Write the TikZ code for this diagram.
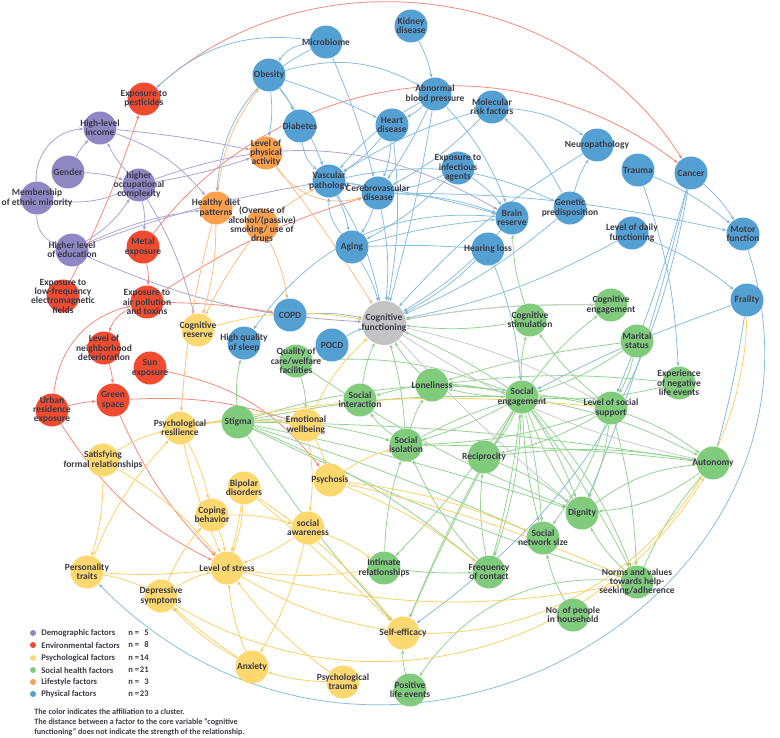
\documentclass[tikz,border=0pt]{standalone}
\usepackage{fontspec}
\setmainfont{Carlito}
\usetikzlibrary{arrows.meta}

\definecolor{demoC}{HTML}{8F86C4}
\definecolor{envC}{HTML}{EF4B31}
\definecolor{psyC}{HTML}{FDD86F}
\definecolor{socC}{HTML}{80CB7C}
\definecolor{lifeC}{HTML}{FCA04B}
\definecolor{physC}{HTML}{55A0D3}
\definecolor{cogC}{HTML}{C3C3C3}
\definecolor{txtC}{HTML}{3B3B47}

\pgfdeclarelayer{links}
\pgfsetlayers{links,main}

\begin{document}
\begin{tikzpicture}[x=0.02cm, y=-0.02cm,
    fac/.style={circle, minimum size=0.66cm, inner sep=0pt},
    demo/.style={fac, fill=demoC},
    env/.style={fac, fill=envC},
    psy/.style={fac, fill=psyC},
    soc/.style={fac, fill=socC},
    life/.style={fac, fill=lifeC},
    physn/.style={fac, fill=physC},
    lbl/.style={align=center, inner sep=0pt, text=txtC,
                font=\bfseries\fontsize{5.4}{5.3}\selectfont},
    tip/.style={-{Stealth[length=2.4pt, width=1.9pt]}, line width=0.45pt,
                every edge/.append style={bend left=8}},
    demoline/.style={tip, draw=demoC!75},
    envline/.style={tip, draw=envC!65},
    psyline/.style={tip, draw=psyC!90!orange},
    socline/.style={tip, draw=socC!85},
    lifeline/.style={tip, draw=lifeC!70},
    physline/.style={tip, draw=physC!70},
    cogline/.style={tip, draw=cogC!90},
    legtext/.style={anchor=west, inner sep=0pt, text=txtC,
                font=\bfseries\fontsize{4.9}{5}\selectfont}
]
\useasboundingbox (0,0) rectangle (780,737);

% demographic factors
\node[demo, label={[lbl]center:High-level\\income}] (inc) at (100,128) {};
\node[demo, label={[lbl]center:Gender}] (gen) at (68,172) {};
\node[demo, label={[lbl]center:Membership\\of ethnic minority}] (eth) at (37,198) {};
\node[demo, label={[lbl]center:higher\\occupational\\complexity}] (occ) at (139,185) {};
\node[demo, label={[lbl]center:Higher level\\of education}] (edu) at (72,250) {};

% environmental factors
\node[env, label={[lbl]center:Exposure to\\pesticides}] (pest) at (144,99) {};
\node[env, label={[lbl]center:Metal\\exposure}] (metal) at (143,247) {};
\node[env, label={[lbl]center:Exposure to\\low-frequency\\electromagnetic\\fields}] (lowf) at (63,296) {};
\node[env, label={[lbl]center:Exposure to\\air pollution\\and toxins}] (air) at (147,302) {};
\node[env, label={[lbl]center:Level of\\neighborhood\\deterioration}] (neigh) at (104,348) {};
\node[env, label={[lbl]center:Sun\\exposure}] (sun) at (150,368) {};
\node[env, label={[lbl]center:Green\\space}] (green) at (113,400) {};
\node[env, label={[lbl]center:Urban\\residence\\exposure}] (urban) at (52,410) {};

% lifestyle factors
\node[life, label={[lbl]center:Level of\\physical\\activity}] (phys) at (266,153) {};
\node[life, label={[lbl]center:Healthy diet\\patterns}] (diet) at (216,208) {};
\node[life, label={[lbl]center:(Overuse of\\alcohol/(passive)\\smoking/ use of\\drugs}] (alc) at (262,225) {};

% physical factors
\node[physn, label={[lbl]center:Kidney\\disease}] (kid) at (411,26) {};
\node[physn, label={[lbl]center:Microbiome}] (micro) at (326,42) {};
\node[physn, label={[lbl]center:Obesity}] (obes) at (269,75) {};
\node[physn, label={[lbl]center:Diabetes}] (diab) at (300,126) {};
\node[physn, label={[lbl]center:Abnormal\\blood pressure}] (abp) at (435,94) {};
\node[physn, label={[lbl]center:Heart\\disease}] (heart) at (392,125) {};
\node[physn, label={[lbl]center:Molecular\\risk factors}] (mol) at (492,107) {};
\node[physn, label={[lbl]center:Vascular\\pathology}] (vasc) at (329,181) {};
\node[physn, label={[lbl]center:Cerebrovascular\\disease}] (cere) at (378,193) {};
\node[physn, label={[lbl]center:Exposure to\\infectious\\agents}] (inf) at (458,168) {};
\node[physn, label={[lbl]center:Neuropathology}] (neuro) at (597,145) {};
\node[physn, label={[lbl]center:Trauma}] (trauma) at (638,170) {};
\node[physn, label={[lbl]center:Cancer}] (cancer) at (691,173) {};
\node[physn, label={[lbl]center:Genetic\\predisposition}] (gene) at (570,208) {};
\node[physn, label={[lbl]center:Brain\\reserve}] (brain) at (512,218) {};
\node[physn, label={[lbl]center:Aging}] (aging) at (352,247) {};
\node[physn, label={[lbl]center:Hearing loss}] (hear) at (488,249) {};
\node[physn, label={[lbl]center:Level of daily\\functioning}] (daily) at (632,233) {};
\node[physn, label={[lbl]center:Motor\\function}] (motor) at (743,234) {};
\node[physn, label={[lbl]center:COPD}] (copd) at (290,315) {};
\node[physn, label={[lbl]center:POCD}] (pocd) at (332,345) {};
\node[physn, label={[lbl]center:High quality\\of sleep}] (sleep) at (244,343) {};
\node[physn, label={[lbl]center:Frailty}] (frail) at (747,300) {};

% core variable
\node[fac, fill=cogC, minimum size=0.88cm, label={[lbl]center:Cognitive\\functioning}] (cog) at (384,323) {};

% social health factors
\node[soc, label={[lbl]center:Cognitive\\engagement}] (ceng) at (611,305) {};
\node[soc, label={[lbl]center:Marital\\status}] (marital) at (637,341) {};
\node[soc, label={[lbl]center:Cognitive\\stimulation}] (cstim) at (530,320) {};
\node[soc, label={[lbl]center:Quality of\\care/welfare\\facilities}] (qual) at (296,361) {};
\node[soc, label={[lbl]center:Loneliness}] (lone) at (432,385) {};
\node[soc, label={[lbl]center:Social\\interaction}] (sint) at (360,400) {};
\node[soc, label={[lbl]center:Social\\engagement}] (seng) at (522,397) {};
\node[soc, label={[lbl]center:Level of social\\support}] (ssup) at (611,408) {};
\node[soc, label={[lbl]center:Experience\\of negative\\life events}] (neg) at (679,383) {};
\node[soc, label={[lbl]center:Stigma}] (stigma) at (238,422) {};
\node[soc, label={[lbl]center:Social\\isolation}] (siso) at (406,445) {};
\node[soc, label={[lbl]center:Reciprocity}] (recip) at (484,457) {};
\node[soc, label={[lbl]center:Autonomy}] (auto) at (713,463) {};
\node[soc, label={[lbl]center:Dignity}] (dign) at (582,513) {};
\node[soc, label={[lbl]center:Social\\network size}] (snet) at (543,538) {};
\node[soc, label={[lbl]center:Intimate\\relationships}] (intim) at (384,568) {};
\node[soc, label={[lbl]center:Frequency\\of contact}] (freq) at (489,572) {};
\node[soc, label={[lbl]center:Norms and values\\towards help-\\seeking/adherence}] (norms) at (637,582) {};
\node[soc, label={[lbl]center:No. of people\\in household}] (house) at (573,615) {};
\node[soc, label={[lbl]center:Positive\\life events}] (pos) at (410,690) {};

% psychological factors
\node[psy, label={[lbl]center:Cognitive\\reserve}] (creserve) at (198,330) {};
\node[psy, label={[lbl]center:Emotional\\wellbeing}] (emo) at (306,425) {};
\node[psy, label={[lbl]center:Psychological\\resilience}] (resil) at (180,428) {};
\node[psy, label={[lbl]center:Satisfying\\formal relationships}] (sat) at (103,460) {};
\node[psy, label={[lbl]center:Bipolar\\disorders}] (bipolar) at (244,488) {};
\node[psy, label={[lbl]center:Psychosis}] (psychosis) at (330,480) {};
\node[psy, label={[lbl]center:Coping\\behavior}] (coping) at (212,515) {};
\node[psy, label={[lbl]center:social\\awareness}] (saware) at (308,528) {};
\node[psy, label={[lbl]center:Personality\\traits}] (pers) at (87,572) {};
\node[psy, label={[lbl]center:Level of stress}] (stress) at (227,568) {};
\node[psy, label={[lbl]center:Depressive\\symptoms}] (dep) at (161,596) {};
\node[psy, label={[lbl]center:Anxiety}] (anx) at (252,667) {};
\node[psy, label={[lbl]center:Psychological\\trauma}] (ptrauma) at (343,682) {};
\node[psy, label={[lbl]center:Self-efficacy}] (self) at (403,633) {};

\begin{pgfonlayer}{links}
% demographic
\path[demoline] (gen) edge (inc) (gen) edge (occ) (eth) edge[bend left=45] (inc)
    (eth) edge[bend right=15] (occ) (eth) edge[bend right=35] (edu) (occ) edge (inc)
    (edu) edge[bend right=12] (occ) (edu) edge[bend right=10] (cog) (occ) edge[bend right=4] (phys)
    (inc) edge[bend left=3] (phys) (inc) edge[bend left=15] (diet) (occ) edge (metal)
    (occ) edge[bend left=25] (brain) (occ) edge (creserve) (edu) edge[bend left=5] (vasc)
    (edu) edge (diet);
% environmental
\path[envline] (pest) edge[bend left=50] (cancer) (metal) edge[bend left=45] (cancer)
    (lowf) edge[bend right=4] (pest) (metal) edge (air) (air) edge[bend left=8] (cere)
    (air) edge[bend left=4] (copd) (air) edge[bend right=25] (neigh) (neigh) edge (green)
    (urban) edge[bend left=5] (green) (urban) edge[bend left=35] (air)
    (urban) edge[bend right=15] (stress) (green) edge[bend right=10] (stress)
    (green) edge[bend left=10] (emo) (sun) edge[bend left=20] (psychosis);
% lifestyle
\path[lifeline] (phys) edge[bend right=35] (cere) (phys) edge[bend left=3] (cog)
    (diet) edge[bend left=15] (obes) (diet) edge (creserve) (alc) edge (diet)
    (alc) edge[bend right=5] (creserve) (alc) edge (copd) (alc) edge[bend left=5] (vasc)
    (diet) edge[bend right=5] (resil);
% physical
\path[physline] (kid) edge (abp) (micro) edge[bend right=25] (obes) (micro) edge[bend left=4] (cere)
    (micro) edge[bend right=30] (diet) (micro) edge[bend right=25] (pest) (obes) edge (diab)
    (obes) edge[bend left=4] (heart) (obes) edge (vasc) (obes) edge[bend left=22] (abp)
    (obes) edge (phys) (diab) edge[bend right=20] (vasc) (abp) edge (heart)
    (abp) edge[bend right=10] (vasc) (abp) edge[bend left=4] (cere) (abp) edge[bend left=10] (brain)
    (abp) edge[bend left=3] (cog) (heart) edge (vasc) (heart) edge (cere) (heart) edge (cog)
    (mol) edge[bend left=15] (neuro) (mol) edge[bend right=8] (vasc) (mol) edge (cere)
    (gene) edge[bend right=10] (mol) (gene) edge (neuro) (gene) edge (cog)
    (vasc) edge[bend left=18] (gene) (neuro) edge[bend right=8] (cog) (inf) edge (brain)
    (inf) edge[bend left=8] (aging) (inf) edge (cere) (vasc) edge (cere)
    (vasc) edge[bend left=4] (brain) (vasc) edge[bend left=10] (cog) (vasc) edge (aging)
    (aging) edge[bend left=20] (vasc) (cere) edge (cog) (cere) edge (brain) (cere) edge (aging)
    (cere) edge[bend left=6] (motor) (aging) edge (cog) (aging) edge[bend left=3] (hear)
    (aging) edge[bend left=5] (brain) (hear) edge (cog) (hear) edge (seng) (brain) edge (cog)
    (brain) edge[bend right=30] (sleep) (trauma) edge (motor) (cancer) edge (motor)
    (cancer) edge[bend left=4] (dign) (cancer) edge[bend left=3] (ssup) (trauma) edge (neg)
    (daily) edge (frail) (daily) edge (cog) (frail) edge[bend left=3] (auto)
    (frail) edge[bend right=4] (seng) (copd) edge (cog) (pocd) edge (cog)
    (cancer) edge[bend left=22] (self);
\draw[physline] (motor) .. controls (860,600) and (380,870) .. (pers);
% social health
\path[socline] (seng) edge[bend right=5] (cog) (seng) edge[bend left=6] (lone)
    (lone) edge[bend left=6] (seng) (seng) edge (cstim) (seng) edge (ceng) (seng) edge (recip)
    (seng) edge[bend left=6] (dign) (seng) edge[bend right=6] (dign) (seng) edge[bend left=4] (snet)
    (seng) edge[bend right=6] (snet) (seng) edge (freq) (seng) edge[bend left=10] (norms)
    (seng) edge[bend left=4] (norms) (seng) edge (auto) (seng) edge[bend right=3] (self)
    (seng) edge[bend right=4] (self) (seng) edge (ssup) (seng) edge[bend left=5] (siso)
    (siso) edge[bend left=5] (seng) (seng) edge[bend left=5] (intim) (seng) edge[bend right=15] (sint)
    (marital) edge (seng) (marital) edge[bend right=5] (lone) (marital) edge (ssup)
    (neg) edge (seng) (neg) edge[bend right=6] (lone) (ssup) edge (auto) (ssup) edge (dign)
    (ssup) edge (snet) (ssup) edge[bend right=4] (lone) (ssup) edge (siso) (ssup) edge (cstim)
    (ssup) edge (recip) (ssup) edge[bend left=6] (norms) (lone) edge (cog) (siso) edge (lone)
    (siso) edge (sint) (siso) edge[bend right=6] (cog) (siso) edge[bend left=3] (auto)
    (sint) edge (cog) (cstim) edge (cog) (cstim) edge (brain) (ceng) edge[bend right=5] (cog)
    (stigma) edge (siso) (stigma) edge[bend left=3] (snet) (stigma) edge[bend left=3] (dign)
    (stigma) edge[bend left=4] (auto) (stigma) edge[bend left=6] (seng) (stigma) edge (emo)
    (stigma) edge[bend left=6] (lone) (stigma) edge (freq) (stigma) edge[bend right=4] (self)
    (stigma) edge[bend right=6] (resil) (stigma) edge[bend right=4] (norms) (stigma) edge (sleep)
    (qual) edge (emo) (qual) edge[bend right=6] (dign) (qual) edge[bend left=12] (seng)
    (intim) edge (siso) (intim) edge[bend right=4] (freq) (freq) edge (siso) (freq) edge (recip)
    (freq) edge[bend right=4] (seng) (house) edge (snet) (norms) edge (dign) (norms) edge (auto)
    (dign) edge[bend left=15] (auto) (auto) edge[bend left=15] (dign) (pos) edge (self)
    (recip) edge (dign) (recip) edge (auto) (norms) edge[bend right=30] (pos);
% psychological
\path[psyline] (coping) edge (stress) (saware) edge (stress) (pers) edge[bend right=5] (stress)
    (dep) edge (stress) (anx) edge (stress) (ptrauma) edge (stress) (bipolar) edge (stress)
    (bipolar) edge[bend left=3] (stress) (resil) edge[bend right=5] (stress) (sat) edge[bend left=10] (stress)
    (resil) edge (coping) (resil) edge (emo) (sat) edge[bend left=10] (resil) (emo) edge (psychosis)
    (emo) edge (saware) (emo) edge[bend left=10] (cog) (creserve) edge[bend left=12] (cog)
    (psychosis) edge (siso) (psychosis) edge (snet) (psychosis) edge (freq) (psychosis) edge[bend left=5] (norms)
    (saware) edge (anx) (ptrauma) edge (anx) (anx) edge (dep) (anx) edge[bend left=4] (dep)
    (dep) edge (coping) (pers) edge[bend left=10] (resil) (pers) edge (dep) (sat) edge (pers)
    (dep) edge[bend right=45] (auto) (intim) edge (stress) (stress) edge[bend right=10] (self)
    (bipolar) edge (self) (bipolar) edge[bend left=2] (self) (frail) edge[bend left=45] (self)
    (saware) edge (intim) (coping) edge (saware) (resil) edge[bend left=8] (ssup)
    (stress) edge[bend right=12] (norms);
% core variable
\path[cogline] (cog) edge (ssup) (cog) edge[bend right=10] (auto) (cog) edge[bend right=4] (dign)
    (cog) edge[bend left=5] (ceng);
\end{pgfonlayer}

% legend
\foreach \y/\col/\txt/\n in {633/demoC/Demographic factors/5, 645/envC/Environmental factors/8,
        658/psyC/Psychological factors/14, 670/socC/Social health factors/21,
        682/lifeC/Lifestyle factors/3, 694/physC/Physical factors/23} {
    \fill[\col] (33,\y) circle (0.06cm);
    \node[legtext] at (41,\y) {\txt};
    \node[legtext] at (128,\y) {n =\makebox[1.1em][r]{\n}};
}
\node[legtext, align=left, anchor=north west, font=\bfseries\fontsize{4.6}{5.8}\selectfont]
    at (34,708) {The color indicates the affiliation to a cluster.\\
    The distance between a factor to the core variable “cognitive\\
    functioning” does not indicate the strength of the relationship.};
\end{tikzpicture}
\end{document}
